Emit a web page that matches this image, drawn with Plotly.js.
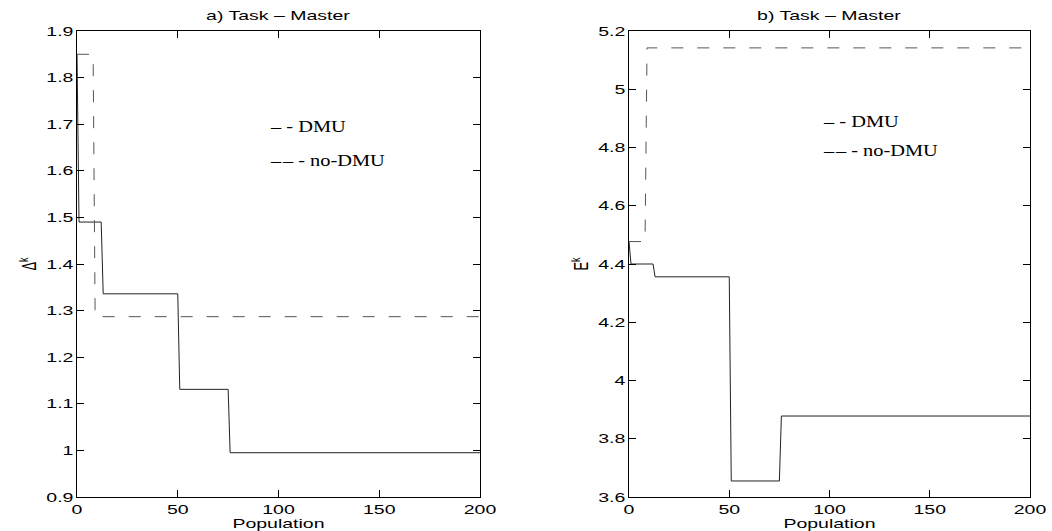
<!DOCTYPE html>
<html>
<head>
<meta charset="utf-8">
<script src="https://cdn.plot.ly/plotly-3.0.1.min.js"></script>
<style>body{margin:0;background:#fff}</style>
</head>
<body>
<div id="chart" style="width:1052px;height:531px"></div>
<script>
// ---- data ----
const popDMU = [0, 1, 12, 13, 50, 51, 75, 76, 200];
const deltaDMU = [1.85, 1.49, 1.49, 1.336, 1.336, 1.131, 1.131, 0.995, 0.995];
const popNoDMU = [0, 8, 9, 200];
const deltaNoDMU = [1.85, 1.85, 1.287, 1.287];
const energyDMU = [4.477, 4.40, 4.40, 4.356, 4.356, 3.655, 3.655, 3.878, 3.878];
const energyNoDMU = [4.477, 4.477, 5.142, 5.142];

const xTickVals = [0, 50, 100, 150, 200];
const xTickText = ['0', '50', '100', '150', '200'];
const yTickValsA = [0.9, 1.0, 1.1, 1.2, 1.3, 1.4, 1.5, 1.6, 1.7, 1.8, 1.9];
const yTickTextA = ['0.9', '1', '1.1', '1.2', '1.3', '1.4', '1.5', '1.6', '1.7', '1.8', '1.9'];
const yTickValsB = [3.6, 3.8, 4.0, 4.2, 4.4, 4.6, 4.8, 5.0, 5.2];
const yTickTextB = ['3.6', '3.8', '4', '4.2', '4.4', '4.6', '4.8', '5', '5.2'];

const panelTitles = ['a) Task \u2013 Master', 'b) Task \u2013 Master'];
const yTitles = ['\u0394<sup>k</sup>', 'E<sup>k</sup>'];
const xTitle = 'Population';
const legendLabels = ['\u2013 - DMU', '\u2013\u200a\u2013 - no-DMU'];

// ---- layout geometry ----
const W = 1052, H = 531;
const mL = 77, mR = 22, mT = 31, mB = 34;
const pw = W - mL - mR;
const dom1 = [0, 403 / pw];
const dom2 = [(629 - mL) / pw, 1];

const sans = 'Liberation Sans, Arial, Helvetica, sans-serif';
const serif = 'Liberation Serif, Times New Roman, serif';

const solid = {color: '#222', width: 1};
const dashed = {color: '#555', width: 1, dash: '12px,14px'};

const traces = [
  {x: popDMU, y: deltaDMU, xaxis: 'x', yaxis: 'y', mode: 'lines', line: solid, name: 'DMU', showlegend: false, hoverinfo: 'skip'},
  {x: popNoDMU, y: deltaNoDMU, xaxis: 'x', yaxis: 'y', mode: 'lines', line: dashed, name: 'no-DMU', showlegend: false, hoverinfo: 'skip'},
  {x: popDMU, y: energyDMU, xaxis: 'x2', yaxis: 'y2', mode: 'lines', line: solid, name: 'DMU', showlegend: false, hoverinfo: 'skip'},
  {x: popNoDMU, y: energyNoDMU, xaxis: 'x2', yaxis: 'y2', mode: 'lines', line: dashed, name: 'no-DMU', showlegend: false, hoverinfo: 'skip'}
];

function axisBase() {
  return {
    showgrid: false, zeroline: false, showline: true, linecolor: '#000', linewidth: 1,
    mirror: 'ticks', ticks: 'inside', ticklen: 7, tickwidth: 1, tickcolor: '#000',
    tickfont: {family: sans, size: 13, color: '#000'}, fixedrange: true, automargin: false
  };
}

const layout = {
  width: W, height: H,
  margin: {l: mL, r: mR, t: mT, b: mB, pad: 0},
  paper_bgcolor: '#fff', plot_bgcolor: '#fff',
  showlegend: false,
  xaxis: Object.assign(axisBase(), {domain: dom1, anchor: 'y', range: [0, 200], tickmode: 'array', tickvals: xTickVals, ticktext: xTickText,
    title: {text: xTitle, font: {family: sans, size: 13, color: '#000'}, standoff: 2}}),
  yaxis: Object.assign(axisBase(), {domain: [0, 1], anchor: 'x', range: [0.9, 1.9], tickmode: 'array', tickvals: yTickValsA, ticktext: yTickTextA,
    title: {text: yTitles[0], font: {family: sans, size: 13, color: '#000'}, standoff: 15}}),
  xaxis2: Object.assign(axisBase(), {domain: dom2, anchor: 'y2', range: [0, 200], tickmode: 'array', tickvals: xTickVals, ticktext: xTickText,
    title: {text: xTitle, font: {family: sans, size: 13, color: '#000'}, standoff: 2}}),
  yaxis2: Object.assign(axisBase(), {domain: [0, 1], anchor: 'x2', range: [3.6, 5.2], tickmode: 'array', tickvals: yTickValsB, ticktext: yTickTextB,
    title: {text: yTitles[1], font: {family: sans, size: 13, color: '#000'}, standoff: 15}}),
  annotations: [
    {xref: 'paper', yref: 'paper', x: (dom1[0] + dom1[1]) / 2, y: 1, yshift: 16, xanchor: 'center', yanchor: 'middle', showarrow: false,
     text: panelTitles[0], font: {family: sans, size: 13, color: '#000'}},
    {xref: 'paper', yref: 'paper', x: (dom2[0] + dom2[1]) / 2, y: 1, yshift: 16, xanchor: 'center', yanchor: 'middle', showarrow: false,
     text: panelTitles[1], font: {family: sans, size: 13, color: '#000'}},
    {xref: 'x', yref: 'y', x: 95, y: 1.696, xanchor: 'left', yanchor: 'middle', align: 'left', showarrow: false,
     text: legendLabels[0], font: {family: serif, size: 17, color: '#000'}},
    {xref: 'x', yref: 'y', x: 95, y: 1.623, xanchor: 'left', yanchor: 'middle', align: 'left', showarrow: false,
     text: legendLabels[1], font: {family: serif, size: 17, color: '#000'}},
    {xref: 'x2', yref: 'y2', x: 96, y: 4.891, xanchor: 'left', yanchor: 'middle', align: 'left', showarrow: false,
     text: legendLabels[0], font: {family: serif, size: 17, color: '#000'}},
    {xref: 'x2', yref: 'y2', x: 96, y: 4.791, xanchor: 'left', yanchor: 'middle', align: 'left', showarrow: false,
     text: legendLabels[1], font: {family: serif, size: 17, color: '#000'}}
  ]
};

function stretchText(root, selector, sx, sy) {
  root.querySelectorAll(selector).forEach(function (el) {
    const x = parseFloat(el.getAttribute('x')) || 0;
    const y = parseFloat(el.getAttribute('y')) || 0;
    const t = el.getAttribute('transform') || '';
    el.setAttribute('transform', t + ' translate(' + x + ',' + y + ') scale(' + sx + ',' + sy + ') translate(' + (-x) + ',' + (-y) + ')');
  });
}

const gd = document.getElementById('chart');
Plotly.newPlot(gd, traces, layout, {staticPlot: true, displayModeBar: false}).then(function () {
  stretchText(gd, '.xtick text, .x2tick text, .ytick text, .y2tick text', 1.5, 1);
  stretchText(gd, '.g-xtitle text, .g-x2title text', 1.5, 1);
  stretchText(gd, '.g-ytitle text, .g-y2title text', 1, 1.5);
  stretchText(gd, 'g.annotation[data-index="0"] text, g.annotation[data-index="1"] text', 1.5, 1);
  stretchText(gd, 'g.annotation[data-index="2"] text, g.annotation[data-index="3"] text, g.annotation[data-index="4"] text, g.annotation[data-index="5"] text', 1.2, 1);
});
</script>
</body>
</html>
